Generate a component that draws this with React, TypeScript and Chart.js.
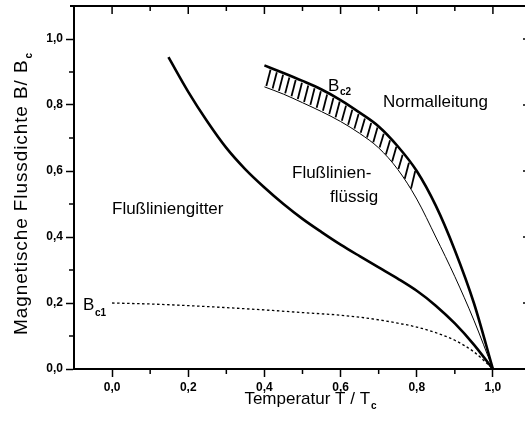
import React, { useEffect, useRef } from "react";
import { Chart, registerables } from "chart.js";

Chart.register(...registerables);

// ---- data ----
const gitterT = [0.148, 0.2, 0.25, 0.3, 0.35, 0.4, 0.45, 0.5, 0.55, 0.6, 0.65, 0.7, 0.75, 0.8, 0.85, 0.9, 0.95, 1.0];
const gitterB = [0.945, 0.84, 0.75, 0.67, 0.605, 0.55, 0.5, 0.455, 0.415, 0.377, 0.342, 0.308, 0.274, 0.237, 0.192, 0.138, 0.074, 0.0];

const bc2T = [0.4, 0.45, 0.5, 0.55, 0.6, 0.65, 0.7, 0.75, 0.8, 0.85, 0.9, 0.95, 1.0];
const bc2B = [0.92, 0.897, 0.873, 0.847, 0.815, 0.777, 0.735, 0.675, 0.6, 0.495, 0.36, 0.2, 0.0];

const liquidT = [0.4, 0.45, 0.5, 0.55, 0.6, 0.65, 0.7, 0.75, 0.8, 0.85, 0.9, 0.95, 1.0];
const liquidB = [0.855, 0.833, 0.807, 0.78, 0.75, 0.714, 0.67, 0.605, 0.515, 0.4, 0.28, 0.148, 0.0];

const bc1T = [0.0, 0.1, 0.2, 0.3, 0.4, 0.5, 0.6, 0.65, 0.7, 0.75, 0.8, 0.85, 0.9, 0.95, 1.0];
const bc1B = [0.2, 0.197, 0.192, 0.186, 0.179, 0.171, 0.163, 0.157, 0.149, 0.139, 0.127, 0.11, 0.087, 0.052, 0.0];

const xTickValues = [0.0, 0.2, 0.4, 0.6, 0.8, 1.0];
const xTickLabels = ["0,0", "0,2", "0,4", "0,6", "0,8", "1,0"];
const xMinorValues = [0.1, 0.3, 0.5, 0.7, 0.9];
const yTickValues = [0.0, 0.2, 0.4, 0.6, 0.8, 1.0];
const yTickLabels = ["0,0", "0,2", "0,4", "0,6", "0,8", "1,0"];
const yMinorValues = [0.1, 0.3, 0.5, 0.7, 0.9];

const hatchStart = 0.405;
const hatchEnd = 0.785;
const hatchCount = 24;

const FONT = "'Liberation Sans', Arial, Helvetica, sans-serif";

function interp(xs: number[], ys: number[], x: number): number {
  if (x <= xs[0]) return ys[0];
  for (let i = 1; i < xs.length; i++) {
    if (x <= xs[i]) {
      const t = (x - xs[i - 1]) / (xs[i] - xs[i - 1]);
      return ys[i - 1] + t * (ys[i] - ys[i - 1]);
    }
  }
  return ys[ys.length - 1];
}

function toXY(xs: number[], ys: number[]) {
  return xs.map((x, i) => ({ x, y: ys[i] }));
}

const overlay = {
  id: "overlay",
  afterDatasetsDraw(chart: any) {
    const ctx = chart.ctx;
    const xs = chart.scales.x;
    const ys = chart.scales.y;
    ctx.save();
    ctx.strokeStyle = "#000";
    ctx.lineWidth = 1.8;
    ctx.lineCap = "butt";
    const step = (hatchEnd - hatchStart) / (hatchCount - 1);
    for (let i = 0; i < hatchCount; i++) {
      const x0 = hatchStart + i * step;
      const x1 = x0 + 0.011;
      const bx = xs.getPixelForValue(x0);
      const by = ys.getPixelForValue(interp(liquidT, liquidB, x0)) - 1.5;
      const tx = xs.getPixelForValue(x1);
      const ty = ys.getPixelForValue(interp(bc2T, bc2B, x1)) + 2;
      ctx.beginPath();
      ctx.moveTo(bx, by);
      ctx.lineTo(tx, ty);
      ctx.stroke();
    }
    ctx.restore();
  },
  afterDraw(chart: any) {
    const ctx = chart.ctx;
    const xs = chart.scales.x;
    const ys = chart.scales.y;
    const a = chart.chartArea;
    ctx.save();
    ctx.strokeStyle = "#000";
    const line = (x1: number, y1: number, x2: number, y2: number) => {
      ctx.beginPath();
      ctx.moveTo(x1, y1);
      ctx.lineTo(x2, y2);
      ctx.stroke();
    };
    ctx.lineWidth = 2;
    line(a.left - 4, a.top, a.left, a.top);
    ctx.lineWidth = 1.5;
    xMinorValues.forEach((v) => {
      const p = xs.getPixelForValue(v);
      line(p, a.bottom, p, a.bottom + 5);
      line(p, a.top, p, a.top + 5);
    });
    yMinorValues.forEach((v) => {
      const p = ys.getPixelForValue(v);
      line(a.left - 5, p, a.left, p);
      line(a.right, p, a.right - 5, p);
    });
    xTickValues.forEach((v) => {
      const p = xs.getPixelForValue(v);
      line(p, a.top, p, a.top + 8);
    });
    yTickValues.forEach((v) => {
      const p = ys.getPixelForValue(v);
      line(a.right, p, a.right - 8, p);
    });

    ctx.fillStyle = "#000";
    ctx.textBaseline = "alphabetic";
    ctx.textAlign = "left";
    const big = `17px ${FONT}`;
    const sub = `bold 10px ${FONT}`;

    ctx.font = big;
    ctx.fillText("Normalleitung", 383, 107);
    ctx.fillText("Flußlinien-", 292, 178);
    ctx.fillText("flüssig", 330, 202);
    ctx.fillText("Flußliniengitter", 112, 214);

    ctx.font = big;
    ctx.fillText("B", 328, 91);
    ctx.font = sub;
    ctx.fillText("c2", 340, 95);

    ctx.font = big;
    ctx.fillText("B", 83, 310);
    ctx.font = sub;
    ctx.fillText("c1", 95, 316);

    // x title
    const titleFont = `17px ${FONT}`;
    const subTitle = `bold 10px ${FONT}`;
    ctx.font = titleFont;
    const xMain = "Temperatur T / T";
    const wMain = ctx.measureText(xMain).width;
    ctx.font = subTitle;
    const wSub = ctx.measureText("c").width;
    const xStart = 310 - (wMain + wSub) / 2;
    ctx.font = titleFont;
    ctx.fillText(xMain, xStart, 404);
    ctx.font = subTitle;
    ctx.fillText("c", xStart + wMain + 1, 409);

    // y title
    ctx.save();
    ctx.translate(27, 194);
    ctx.rotate(-Math.PI / 2);
    const yMain = "Magnetische Flussdichte B/ B";
    const yFont = `19px ${FONT}`;
    (ctx as any).letterSpacing = "0.9px";
    ctx.font = yFont;
    const wy = ctx.measureText(yMain).width;
    ctx.font = subTitle;
    const wys = ctx.measureText("c").width;
    const ys0 = -(wy + wys) / 2;
    ctx.font = yFont;
    ctx.fillText(yMain, ys0, 0);
    ctx.font = subTitle;
    ctx.fillText("c", ys0 + wy + 1, 5);
    (ctx as any).letterSpacing = "0px";
    ctx.restore();

    ctx.restore();
  },
};

export default function App() {
  const ref = useRef<HTMLCanvasElement | null>(null);
  useEffect(() => {
    if (!ref.current) return;
    const tickFont = { family: FONT, size: 12, weight: "bold" as const };
    const zeroPad = (s: any) => {
      s.paddingTop = 0;
      s.paddingBottom = 0;
      s.paddingLeft = 0;
      s.paddingRight = 0;
    };
    const lineDs = (xs: number[], ys: number[], w: number, dash: number[] = []) => ({
      data: toXY(xs, ys),
      borderColor: "#000",
      borderWidth: w,
      borderDash: dash,
      pointRadius: 0,
      cubicInterpolationMode: "monotone" as const,
      fill: false,
    });
    const chart = new Chart(ref.current, {
      type: "line",
      data: {
        datasets: [
          lineDs(gitterT, gitterB, 2.6),
          lineDs(bc2T, bc2B, 2.6),
          lineDs(liquidT, liquidB, 1),
          lineDs(bc1T, bc1B, 1.3, [2.5, 2.5]),
        ],
      },
      options: {
        animation: false,
        responsive: false,
        devicePixelRatio: 1,
        layout: { padding: 0 },
        plugins: { legend: { display: false }, tooltip: { enabled: false } },
        scales: {
          x: {
            type: "linear",
            position: "bottom",
            min: -0.1,
            max: 1.1,
            afterBuildTicks: (s: any) => {
              s.ticks = xTickValues.map((v) => ({ value: v }));
            },
            afterFit: (s: any) => {
              s.height = 52;
              zeroPad(s);
            },
            ticks: {
              color: "#000",
              font: tickFont,
              padding: 3,
              maxRotation: 0,
              autoSkip: false,
              callback: (_v: any, i: number) => xTickLabels[i],
            },
            grid: {
              display: true,
              drawOnChartArea: false,
              drawTicks: true,
              tickLength: 8,
              tickColor: "#000",
              tickWidth: 1.5,
              color: "rgba(0,0,0,0)",
            },
            border: { display: true, color: "#000", width: 2 },
          },
          x2: {
            type: "linear",
            position: "top",
            min: -0.1,
            max: 1.1,
            afterFit: (s: any) => {
              s.height = 6;
              zeroPad(s);
            },
            ticks: { display: false },
            grid: { display: false },
            border: { display: true, color: "#000", width: 2 },
          },
          y: {
            type: "linear",
            position: "left",
            min: 0,
            max: 1.1,
            afterBuildTicks: (s: any) => {
              s.ticks = yTickValues.map((v) => ({ value: v }));
            },
            afterFit: (s: any) => {
              s.width = 74;
              zeroPad(s);
            },
            ticks: {
              color: "#000",
              font: tickFont,
              padding: 3,
              autoSkip: false,
              callback: (_v: any, i: number) => yTickLabels[i],
            },
            grid: {
              display: true,
              drawOnChartArea: false,
              drawTicks: true,
              tickLength: 8,
              tickColor: "#000",
              tickWidth: 1.5,
              color: "rgba(0,0,0,0)",
            },
            border: { display: true, color: "#000", width: 2 },
          },
          y2: {
            type: "linear",
            position: "right",
            min: 0,
            max: 1.1,
            afterFit: (s: any) => {
              s.width = 4;
              zeroPad(s);
            },
            ticks: { display: false },
            grid: { display: false },
            border: { display: true, color: "#000", width: 2 },
          },
        },
      },
      plugins: [overlay],
    });
    return () => chart.destroy();
  }, []);
  return (
    <div style={{ position: "fixed", left: 0, top: 0, width: 535, height: 421, background: "#fff" }}>
      <canvas ref={ref} width={535} height={421} style={{ display: "block" }} />
    </div>
  );
}
